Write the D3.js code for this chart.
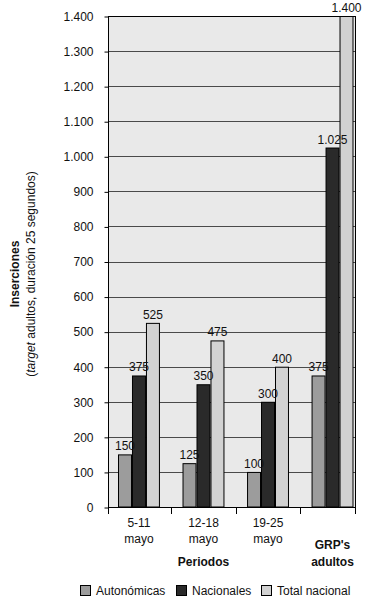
<!DOCTYPE html>
<html>
<head>
<meta charset="utf-8">
<script src="https://cdn.jsdelivr.net/npm/d3@7"></script>
<style>
  body { margin: 0; background: #fff; }
  svg { display: block; font-family: "Liberation Sans", Arial, sans-serif; }
</style>
</head>
<body>
<div id="chart"></div>
<script>
const periods = ["5-11 mayo", "12-18 mayo", "19-25 mayo", "GRP's adultos"];
const seriesNames = ["Autonómicas", "Nacionales", "Total nacional"];
const autonomicas = [150, 125, 100, 375];
const nacionales = [375, 350, 300, 1025];
const totalNacional = [525, 475, 400, 1400];
const yTicks = [0, 100, 200, 300, 400, 500, 600, 700, 800, 900, 1000, 1100, 1200, 1300, 1400];
const seriesColors = ["#9c9c9c", "#2a2a2a", "#d2d2d2"];

const W = 374, H = 600;
const plot = { left: 108, right: 355, top: 16, bottom: 507 };

const esLocale = d3.formatLocale({ decimal: ",", thousands: ".", grouping: [3], currency: ["", " €"] });
const fmt = esLocale.format(",d");

const rows = periods.map((p, i) => ({
  period: p,
  values: [autonomicas[i], nacionales[i], totalNacional[i]]
}));

const svg = d3.select("#chart").append("svg")
  .attr("width", W)
  .attr("height", H);

const x = d3.scaleBand()
  .domain(periods)
  .range([plot.left, 363.5])
  .paddingInner(0.35)
  .paddingOuter(0.155);

const xs = d3.scaleBand()
  .domain(seriesNames)
  .range([0, x.bandwidth()]);

const y = d3.scaleLinear()
  .domain([0, 1400])
  .range([plot.bottom, plot.top]);

// plot background
svg.append("rect")
  .attr("x", plot.left)
  .attr("y", plot.top)
  .attr("width", plot.right - plot.left)
  .attr("height", plot.bottom - plot.top)
  .attr("fill", "#e9e9e9");

// gridlines
svg.append("g")
  .selectAll("line")
  .data(yTicks.filter(d => d > 0 && d < 1400))
  .join("line")
  .attr("x1", plot.left)
  .attr("x2", plot.right)
  .attr("y1", d => Math.round(y(d)) + 0.5)
  .attr("y2", d => Math.round(y(d)) + 0.5)
  .attr("stroke", "#4a4a4a")
  .attr("stroke-width", 1);

// bars
const groups = svg.append("g")
  .selectAll("g")
  .data(rows)
  .join("g")
  .attr("transform", d => `translate(${x(d.period)},0)`);

groups.selectAll("rect")
  .data(d => d.values.map((v, j) => ({ name: seriesNames[j], value: v, j })))
  .join("rect")
  .attr("x", d => xs(d.name) + 0.5)
  .attr("y", d => y(d.value) + 0.5)
  .attr("width", xs.bandwidth() - 1)
  .attr("height", d => y(0) - y(d.value) - 0.5)
  .attr("fill", d => seriesColors[d.j])
  .attr("stroke", "#000")
  .attr("stroke-width", 1);

groups.selectAll("text")
  .data(d => d.values.map((v, j) => ({ name: seriesNames[j], value: v })))
  .join("text")
  .attr("x", d => xs(d.name) + xs.bandwidth() / 2)
  .attr("y", d => y(d.value) - 4)
  .attr("text-anchor", "middle")
  .style("font-size", "12px")
  .attr("fill", "#111")
  .text(d => fmt(d.value));

// frame
svg.append("rect")
  .attr("x", plot.left + 0.5)
  .attr("y", plot.top + 0.5)
  .attr("width", plot.right - plot.left)
  .attr("height", plot.bottom - plot.top)
  .attr("fill", "none")
  .attr("stroke", "#000");

// y axis
const yAxis = svg.append("g")
  .attr("transform", `translate(${plot.left + 0.5},0.5)`)
  .call(d3.axisLeft(y)
    .tickValues(yTicks)
    .tickSize(4)
    .tickPadding(11)
    .tickFormat(fmt));
yAxis.select(".domain").remove();
yAxis.selectAll("text")
  .style("font-size", "12px")
  .style("font-family", "'Liberation Sans', Arial, sans-serif")
  .attr("fill", "#111");

// x ticks at category boundaries
const step = x.step();
const bounds = [plot.left].concat(periods.slice(1).map(p => x(p) - step * x.paddingInner() / 2)).concat([plot.right]);
svg.append("g")
  .selectAll("line")
  .data(bounds)
  .join("line")
  .attr("x1", d => Math.round(d) + 0.5)
  .attr("x2", d => Math.round(d) + 0.5)
  .attr("y1", plot.bottom)
  .attr("y2", plot.bottom + 7)
  .attr("stroke", "#000");

// x labels
const xLab = svg.append("g")
  .selectAll("text")
  .data(periods)
  .join("text")
  .attr("text-anchor", "middle")
  .style("font-size", "12px")
  .style("font-weight", (d, i) => i === periods.length - 1 ? "bold" : "normal")
  .attr("fill", "#111");
xLab.each(function (d, i) {
  const parts = d.split(" ");
  const last = i === periods.length - 1;
  const t = d3.select(this);
  const cx = x(d) + x.bandwidth() / 2;
  t.append("tspan").attr("x", cx).attr("y", last ? 549 : 527).text(parts[0]);
  t.append("tspan").attr("x", cx).attr("y", last ? 566 : 543).text(parts.slice(1).join(" "));
});

svg.append("text")
  .attr("x", (x(periods[0]) + x(periods[2]) + x.bandwidth()) / 2)
  .attr("y", 566)
  .attr("text-anchor", "middle")
  .style("font-size", "12px")
  .style("font-weight", "bold")
  .attr("fill", "#111")
  .text("Periodos");

// y title
const yt = svg.append("g")
  .attr("transform", `translate(0,274) rotate(-90)`);
yt.append("text")
  .attr("x", 0)
  .attr("y", 19)
  .attr("text-anchor", "middle")
  .style("font-size", "12px")
  .style("font-weight", "bold")
  .attr("fill", "#111")
  .text("Inserciones");
const sub = yt.append("text")
  .attr("x", 0)
  .attr("y", 35)
  .attr("text-anchor", "middle")
  .style("font-size", "12px")
  .attr("fill", "#111");
sub.append("tspan").text("(");
sub.append("tspan").style("font-style", "italic").text("target");
sub.append("tspan").text(" adultos, duración 25 segundos)");

// legend
const legendX = [80, 176, 261];
const legend = svg.append("g")
  .selectAll("g")
  .data(seriesNames)
  .join("g")
  .attr("transform", (d, i) => `translate(${legendX[i]},585)`);
legend.append("rect")
  .attr("x", 0.5)
  .attr("y", 0.5)
  .attr("width", 10)
  .attr("height", 10)
  .attr("fill", (d, i) => seriesColors[i])
  .attr("stroke", "#000");
legend.append("text")
  .attr("x", 16)
  .attr("y", 10)
  .style("font-size", "12px")
  .attr("fill", "#111")
  .text(d => d);
</script>
</body>
</html>
